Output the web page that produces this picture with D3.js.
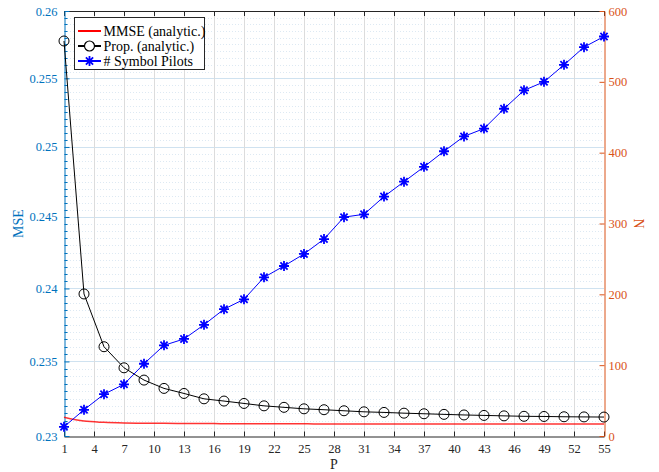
<!DOCTYPE html>
<html>
<head>
<meta charset="utf-8">
<script src="https://cdn.jsdelivr.net/npm/d3@7"></script>
<style>
  body { margin: 0; background: #fff; }
  text { font-family: "Liberation Serif", "Times New Roman", serif; }
</style>
</head>
<body>
<svg id="chart" width="659" height="472"></svg>
<script>
// Pilot spacing P where each curve is evaluated
const pValues = [1, 3, 5, 7, 9, 11, 13, 15, 17, 19, 21, 23, 25, 27, 29, 31, 33, 35, 37, 39, 41, 43, 45, 47, 49, 51, 53, 55];

// MSE of the MMSE estimator (analytic), left axis
const mmseAnalytic = [0.23125, 0.23099, 0.23091, 0.23087, 0.23085, 0.23084, 0.23083, 0.23083, 0.23082, 0.23082,
  0.23081, 0.23081, 0.23081, 0.23080, 0.23080, 0.23080, 0.23080, 0.23080, 0.23080, 0.23080,
  0.23079, 0.23079, 0.23079, 0.23079, 0.23079, 0.23079, 0.23079, 0.23079];

// MSE of the proposed estimator (analytic), left axis
const propAnalytic = [0.25776, 0.23962, 0.23600, 0.23457, 0.23374, 0.23318, 0.23284, 0.23248, 0.23233, 0.23217,
  0.23201, 0.23191, 0.23181, 0.23175, 0.23168, 0.23161, 0.23157, 0.23152, 0.23148, 0.23144,
  0.23140, 0.23137, 0.23134, 0.23131, 0.23130, 0.23128, 0.23127, 0.23126];

// Number of symbol pilots N, right axis
const symbolPilots = [13, 37, 59, 73, 102, 128, 137, 157, 179, 193, 224, 240, 257, 278, 309, 313,
  338, 359, 380, 402, 423, 434, 462, 488, 500, 524, 549, 564];

// Tick labels
const xTicks = [1, 4, 7, 10, 13, 16, 19, 22, 25, 28, 31, 34, 37, 40, 43, 46, 49, 52, 55];
const leftTicks = [0.23, 0.235, 0.24, 0.245, 0.25, 0.255, 0.26];
const leftTickLabels = ["0.23", "0.235", "0.24", "0.245", "0.25", "0.255", "0.26"];
const rightTicks = [0, 100, 200, 300, 400, 500, 600];

const seriesNames = ["MMSE (analytic.)", "Prop. (analytic.)", "# Symbol Pilots"];

const BLUE_AX = "#0072BD", ORANGE_AX = "#D95319", DARK = "#262626";
const plotL = 64, plotR = 604, plotT = 11, plotB = 436;

const svg = d3.select("#chart");
const x = d3.scaleLinear().domain([1, 55]).range([plotL, plotR]);
const yL = d3.scaleLog().domain([0.23, 0.26]).range([plotB, plotT]);
const yR = d3.scaleLinear().domain([0, 600]).range([plotB, plotT]);

// minor grid (dotted) and minor ticks of the left axis
const minorVals = d3.range(0, 61).map(i => 0.23 + i * 0.0005).filter(v => !leftTicks.some(t => Math.abs(t - v) < 1e-7));
const grid = svg.append("g");
grid.selectAll("line.minor").data(minorVals).join("line")
  .attr("x1", plotL).attr("x2", plotR)
  .attr("y1", d => Math.round(yL(d)) + 0.5).attr("y2", d => Math.round(yL(d)) + 0.5)
  .attr("stroke", "#dde9f3").attr("stroke-width", 1).attr("stroke-dasharray", "1,2");
grid.selectAll("line.hmaj").data(leftTicks.slice(1, -1)).join("line")
  .attr("x1", plotL).attr("x2", plotR)
  .attr("y1", d => Math.round(yL(d)) + 0.5).attr("y2", d => Math.round(yL(d)) + 0.5)
  .attr("stroke", "#cfe2f0").attr("stroke-width", 1);
grid.selectAll("line.vmaj").data(xTicks.slice(1, -1)).join("line")
  .attr("x1", d => Math.round(x(d)) + 0.5).attr("x2", d => Math.round(x(d)) + 0.5)
  .attr("y1", plotT).attr("y2", plotB)
  .attr("stroke", "#dcdcdc").attr("stroke-width", 1);

// top border with ticks
svg.append("line").attr("x1", plotL).attr("x2", plotR).attr("y1", plotT + 0.5).attr("y2", plotT + 0.5)
  .attr("stroke", DARK).attr("stroke-width", 1);
svg.append("g").selectAll("line").data(xTicks).join("line")
  .attr("x1", d => Math.round(x(d)) + 0.5).attr("x2", d => Math.round(x(d)) + 0.5)
  .attr("y1", plotT).attr("y2", plotT + 5).attr("stroke", DARK);

// bottom axis
const gx = svg.append("g").attr("transform", `translate(0,${plotB + 0.5})`)
  .call(d3.axisBottom(x).tickValues(xTicks).tickFormat(d3.format("d")).tickSizeInner(-5).tickSizeOuter(0).tickPadding(8));
gx.select(".domain").attr("stroke", DARK);
gx.selectAll(".tick line").attr("stroke", DARK);
gx.selectAll(".tick text").attr("fill", DARK).attr("font-size", 12.5).style("font-family", "Liberation Serif");

// left axis
const gl = svg.append("g").attr("transform", `translate(${plotL + 0.5},0)`)
  .call(d3.axisLeft(yL).tickValues(leftTicks).tickFormat((d, i) => leftTickLabels[i]).tickSizeInner(-5).tickSizeOuter(0).tickPadding(7));
gl.select(".domain").attr("stroke", BLUE_AX);
gl.selectAll(".tick line").attr("stroke", BLUE_AX);
gl.selectAll(".tick text").attr("fill", BLUE_AX).attr("font-size", 12.5).style("font-family", "Liberation Serif");
gl.append("g").selectAll("line").data(minorVals).join("line")
  .attr("x1", 0).attr("x2", 3)
  .attr("y1", d => Math.round(yL(d)) + 0.5).attr("y2", d => Math.round(yL(d)) + 0.5)
  .attr("stroke", BLUE_AX);

// right axis
const gr = svg.append("g").attr("transform", `translate(${plotR + 0.5},0)`)
  .call(d3.axisRight(yR).tickValues(rightTicks).tickFormat(d3.format("d")).tickSizeInner(-5).tickSizeOuter(0).tickPadding(4));
gr.select(".domain").attr("stroke", ORANGE_AX);
gr.selectAll(".tick line").attr("stroke", ORANGE_AX);
gr.selectAll(".tick text").attr("fill", ORANGE_AX).attr("font-size", 12.5).style("font-family", "Liberation Serif");

// axis titles
svg.append("text").attr("x", (plotL + plotR) / 2).attr("y", 469).attr("text-anchor", "middle")
  .attr("font-size", 14).attr("fill", DARK).text("P");
svg.append("text").attr("transform", `translate(23,${(plotT + plotB) / 2}) rotate(-90)`)
  .attr("text-anchor", "middle").attr("font-size", 14).attr("fill", BLUE_AX).text("MSE");
svg.append("text").attr("transform", `translate(634,${(plotT + plotB) / 2}) rotate(90)`)
  .attr("text-anchor", "middle").attr("font-size", 14).attr("fill", ORANGE_AX).text("N");

// series
const mmsePts = pValues.map((p, i) => [p, mmseAnalytic[i]]);
const propPts = pValues.map((p, i) => [p, propAnalytic[i]]);
const pilotPts = pValues.map((p, i) => [p, symbolPilots[i]]);

const lineL = d3.line().x(d => x(d[0])).y(d => yL(d[1])).curve(d3.curveMonotoneX);
const lineLin = d3.line().x(d => x(d[0])).y(d => yL(d[1]));
const lineR = d3.line().x(d => x(d[0])).y(d => yR(d[1]));

svg.append("path").datum(mmsePts).attr("d", lineL).attr("fill", "none")
  .attr("stroke", "#ff0000").attr("stroke-width", 1.5).attr("stroke-opacity", 0.8);

svg.append("path").datum(propPts).attr("d", lineLin).attr("fill", "none")
  .attr("stroke", "#000").attr("stroke-width", 1);
svg.append("g").selectAll("circle").data(propPts).join("circle")
  .attr("cx", d => x(d[0])).attr("cy", d => yL(d[1])).attr("r", 5)
  .attr("fill", "none").attr("stroke", "#000").attr("stroke-width", 1);

const starPath = "M-5,0L5,0M0,-5L0,5M-3.6,-3.6L3.6,3.6M-3.6,3.6L3.6,-3.6";
svg.append("path").datum(pilotPts).attr("d", lineR).attr("fill", "none")
  .attr("stroke", "#0000ff").attr("stroke-width", 1);
svg.append("g").selectAll("path").data(pilotPts).join("path")
  .attr("transform", d => `translate(${x(d[0])},${yR(d[1])})`)
  .attr("d", starPath).attr("stroke", "#0000ff").attr("stroke-width", 1.8).attr("fill", "none");

// legend
const lg = svg.append("g").attr("transform", "translate(74,17)");
lg.append("rect").attr("x", 0.5).attr("y", 0.5).attr("width", 130).attr("height", 52)
  .attr("fill", "#fff").attr("stroke", "#262626").attr("stroke-width", 1);
const rowY = [14, 29, 44];
const styles = [
  { color: "#ff0000", marker: null },
  { color: "#000", marker: "circle" },
  { color: "#0000ff", marker: "star" }
];
seriesNames.forEach((name, i) => {
  const y0 = rowY[i];
  lg.append("line").attr("x1", 4).attr("x2", 27).attr("y1", y0).attr("y2", y0)
    .attr("stroke", styles[i].color).attr("stroke-width", 2);
  if (styles[i].marker === "circle") {
    lg.append("circle").attr("cx", 15.5).attr("cy", y0).attr("r", 5).attr("fill", "#fff")
      .attr("stroke", "#000").attr("stroke-width", 1.2);
  } else if (styles[i].marker === "star") {
    lg.append("path").attr("transform", `translate(15.5,${y0})`).attr("d", starPath)
      .attr("stroke", "#0000ff").attr("stroke-width", 1.8);
  }
  lg.append("text").attr("x", 29.5).attr("y", y0).attr("dy", "0.35em")
    .attr("font-size", 14).attr("fill", "#000").text(name);
});
</script>
</body>
</html>
